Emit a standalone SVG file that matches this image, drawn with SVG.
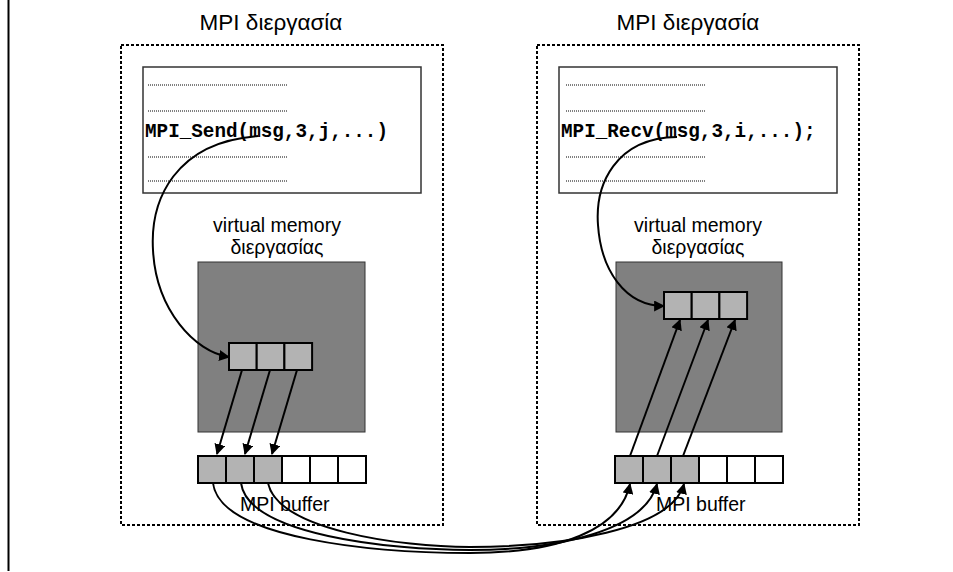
<svg xmlns="http://www.w3.org/2000/svg" width="953" height="572" viewBox="0 0 953 572">
<style>
.title{font-family:"Liberation Sans",Arial,sans-serif;font-size:22.5px;fill:#000}
.lbl{font-family:"Liberation Sans",Arial,sans-serif;font-size:19.5px;fill:#000}
.code{font-family:"Liberation Mono","Courier New",monospace;font-weight:bold;font-size:19.3px;fill:#000}
.proc{fill:none;stroke:#000;stroke-width:2;stroke-dasharray:3 2}
.codebox{fill:#fff;stroke:#333;stroke-width:1.5}
.dots{stroke:#000;stroke-width:1;stroke-dasharray:1 1}
.vm{fill:#808080;stroke:#333;stroke-width:1}
.cell{fill:#b3b3b3;stroke:#000;stroke-width:2}
.empty{fill:#fff;stroke:#000;stroke-width:2}
.conn{fill:none;stroke:#000;stroke-width:2;marker-end:url(#ah)}
</style>
<defs>
<marker id="ah" viewBox="0 0 10 10" refX="9" refY="5" markerWidth="11" markerHeight="11" markerUnits="userSpaceOnUse" orient="auto">
<path d="M0,0 L10,5 L0,10 z" fill="#000"/>
</marker>
</defs>
<rect width="953" height="572" fill="#fff"/>
<line x1="8.5" y1="0" x2="8.5" y2="571" stroke="#000" stroke-width="2"/>

<g id="proc-left">
<text class="title" x="271" y="30" text-anchor="middle">MPI διεργασία</text>
<rect class="proc" x="121" y="45" width="322" height="480"/>
</g>
<g id="proc-right">
<text class="title" x="688" y="30" text-anchor="middle">MPI διεργασία</text>
<rect class="proc" x="537" y="45" width="322" height="480"/>
</g>

<g id="code-left">
<rect class="codebox" x="143" y="67" width="278" height="126"/>
<line class="dots" x1="148" y1="85" x2="288" y2="85"/>
<line class="dots" x1="148" y1="111" x2="288" y2="111"/>
<line class="dots" x1="148" y1="157" x2="288" y2="157"/>
<line class="dots" x1="148" y1="181" x2="288" y2="181"/>
<text class="code" x="145" y="137">MPI_Send(msg,3,j,...)</text>
</g>
<g id="code-right">
<rect class="codebox" x="559" y="67" width="278" height="126"/>
<line class="dots" x1="566" y1="85" x2="705" y2="85"/>
<line class="dots" x1="566" y1="111" x2="705" y2="111"/>
<line class="dots" x1="566" y1="157" x2="705" y2="157"/>
<line class="dots" x1="566" y1="181" x2="705" y2="181"/>
<text class="code" x="561" y="137">MPI_Recv(msg,3,i,...);</text>
</g>

<g id="vm-left">
<text class="lbl" x="277" y="232" text-anchor="middle">virtual memory</text>
<text class="lbl" x="277" y="254" text-anchor="middle">διεργασίας</text>
<rect class="vm" x="198" y="262" width="167" height="170"/>
<rect class="cell" x="229" y="343" width="27.7" height="27"/>
<rect class="cell" x="256.7" y="343" width="27.7" height="27"/>
<rect class="cell" x="284.4" y="343" width="27.7" height="27"/>
</g>
<g id="vm-right">
<text class="lbl" x="698" y="232" text-anchor="middle">virtual memory</text>
<text class="lbl" x="698" y="254" text-anchor="middle">διεργασίας</text>
<rect class="vm" x="616" y="262" width="166" height="170"/>
<rect class="cell" x="664" y="292" width="27.7" height="27"/>
<rect class="cell" x="691.7" y="292" width="27.7" height="27"/>
<rect class="cell" x="719.4" y="292" width="27.7" height="27"/>
</g>

<g id="buf-left">
<rect class="cell" x="198" y="456" width="28" height="27"/>
<rect class="cell" x="226" y="456" width="28" height="27"/>
<rect class="cell" x="254" y="456" width="28" height="27"/>
<rect class="empty" x="282" y="456" width="28" height="27"/>
<rect class="empty" x="310" y="456" width="28" height="27"/>
<rect class="empty" x="338" y="456" width="28" height="27"/>
<text class="lbl" x="240" y="511">MPI buffer</text>
</g>
<g id="buf-right">
<rect class="cell" x="615" y="456" width="28" height="27"/>
<rect class="cell" x="643" y="456" width="28" height="27"/>
<rect class="cell" x="671" y="456" width="28" height="27"/>
<rect class="empty" x="699" y="456" width="28" height="27"/>
<rect class="empty" x="727" y="456" width="28" height="27"/>
<rect class="empty" x="755" y="456" width="28" height="27"/>
<text class="lbl" x="656" y="511">MPI buffer</text>
</g>

<g id="connectors">
<path class="conn" d="M258,136 C175,142 150,200 153,250 C156,310 195,352 229,357"/>
<path class="conn" d="M677,137 C615,138 595,185 598,225 C601,270 625,306 664,306"/>
<path class="conn" d="M242,370 L217,454"/>
<path class="conn" d="M270,370 L245,454"/>
<path class="conn" d="M297,370 L272,454"/>
<path class="conn" d="M630,456 L680,320"/>
<path class="conn" d="M657,456 L708,320"/>
<path class="conn" d="M683,456 L735,320"/>
<path class="conn" d="M213,483 C220,540 380,553 470,553 C560,553 620,530 630,484"/>
<path class="conn" d="M241,483 C248,535 390,550 470,550 C560,550 645,530 657,484"/>
<path class="conn" d="M268,483 C278,530 400,547 470,547 C560,547 672,530 684,484"/>
</g>
</svg>
